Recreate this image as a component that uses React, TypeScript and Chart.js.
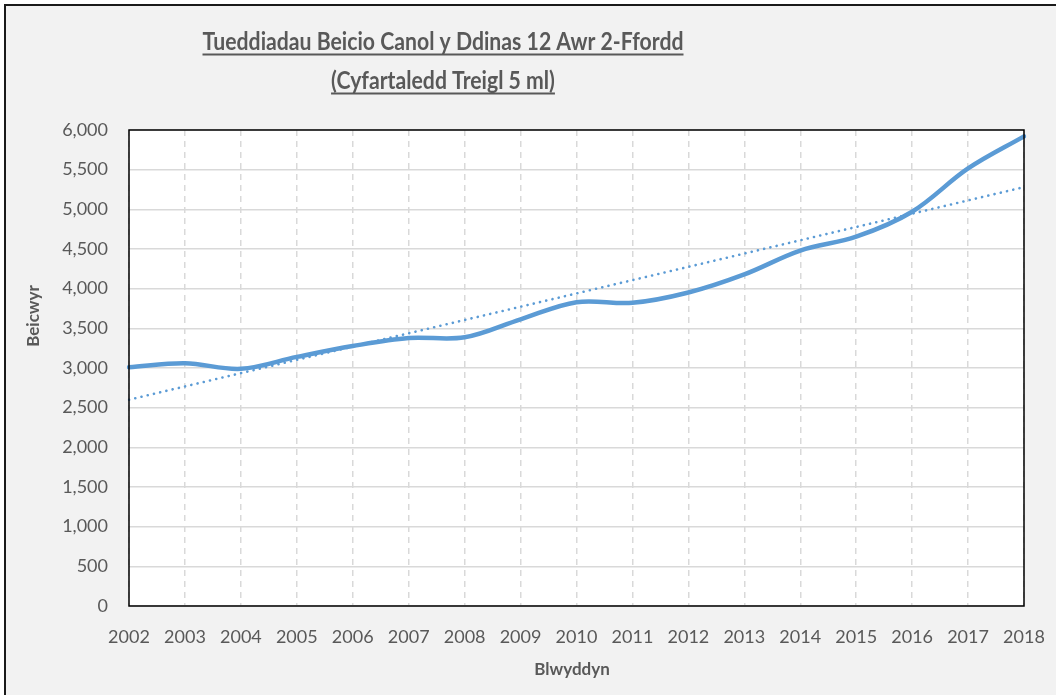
import { useEffect, useRef } from 'react';
import { Chart, registerables } from 'chart.js';

Chart.register(...registerables);

const years = ['2002', '2003', '2004', '2005', '2006', '2007', '2008', '2009', '2010', '2011', '2012', '2013', '2014', '2015', '2016', '2017', '2018'];
const cyclists = [3009, 3060, 2990, 3140, 3277, 3378, 3387, 3614, 3830, 3822, 3952, 4180, 4480, 4655, 4970, 5515, 5920];
const trendYears = ['2002', '2018'];
const trendValues = [2600, 5280];
const titleLines = ['Tueddiadau Beicio Canol y Ddinas 12 Awr 2-Ffordd', '(Cyfartaledd Treigl 5 ml)'];
const yTitle = 'Beicwyr';
const xTitle = 'Blwyddyn';

const FONT = 'Lato, "Open Sans", sans-serif';
const TEXT = '#595959';

function drawCompressed(ctx: any, text: string, cx: number, y: number, scaleX: number) {
  ctx.save();
  ctx.translate(cx, y);
  ctx.scale(scaleX, 1);
  ctx.fillText(text, 0, 0);
  ctx.restore();
}

const decorPlugin = {
  id: 'decor',
  beforeDraw(chart: any) {
    const { ctx, width, height, chartArea } = chart;
    ctx.save();
    ctx.fillStyle = '#ffffff';
    ctx.fillRect(0, 0, width, height);
    ctx.fillStyle = '#f2f2f2';
    ctx.fillRect(6, 6, width - 6, height - 6);
    ctx.fillStyle = '#1a1a1a';
    ctx.fillRect(4, 4, width - 4, 2);
    ctx.fillRect(4, 4, 2, height - 4);
    ctx.fillStyle = '#ffffff';
    ctx.fillRect(chartArea.left, chartArea.top, chartArea.right - chartArea.left, chartArea.bottom - chartArea.top);
    ctx.restore();
  },
  afterDraw(chart: any) {
    const { ctx, chartArea } = chart;
    ctx.save();
    // plot border
    ctx.strokeStyle = '#000000';
    ctx.lineWidth = 1.5;
    ctx.strokeRect(chartArea.left, chartArea.top, chartArea.right - chartArea.left, chartArea.bottom - chartArea.top);

    // title
    ctx.fillStyle = TEXT;
    ctx.strokeStyle = TEXT;
    ctx.font = `bold 24px ${FONT}`;
    ctx.textAlign = 'center';
    ctx.textBaseline = 'alphabetic';
    const cx = 443;
    const baselines = [50, 89];
    const natural = ctx.measureText(titleLines[0]).width;
    const sx = 481 / natural;
    titleLines.forEach((line, i) => {
      drawCompressed(ctx, line, cx, baselines[i], sx);
      const w = ctx.measureText(line).width * sx;
      ctx.lineWidth = 2;
      ctx.beginPath();
      ctx.moveTo(cx - w / 2, baselines[i] + 4.5);
      ctx.lineTo(cx + w / 2, baselines[i] + 4.5);
      ctx.stroke();
    });

    // axis titles
    ctx.font = `bold 17px ${FONT}`;
    ctx.textAlign = 'center';
    ctx.textBaseline = 'alphabetic';
    ctx.fillText(xTitle, 572, 675);
    ctx.save();
    ctx.translate(39, 316);
    ctx.rotate(-Math.PI / 2);
    ctx.fillText(yTitle, 0, 0);
    ctx.restore();
    ctx.restore();
  },
};

export default function App() {
  const ref = useRef<HTMLCanvasElement | null>(null);

  useEffect(() => {
    if (!ref.current) return;
    const chart = new Chart(ref.current, {
      type: 'line',
      data: {
        labels: years,
        datasets: [
          {
            label: 'Beicwyr',
            data: cyclists,
            borderColor: '#5b9bd5',
            borderWidth: 4.5,
            tension: 0.35,
            pointRadius: 0,
            borderCapStyle: 'round',
            borderJoinStyle: 'round',
            fill: false,
          },
          {
            label: 'Trend',
            data: trendYears.map((y, i) => ({ x: y, y: trendValues[i] })) as any,
            borderColor: '#5b9bd5',
            borderWidth: 2.6,
            borderDash: [0.1, 6.3],
            borderCapStyle: 'round',
            pointRadius: 0,
            tension: 0,
            fill: false,
          },
        ],
      },
      options: {
        animation: false,
        responsive: false,
        devicePixelRatio: 1,
        layout: { padding: { top: 130, right: 32, bottom: 0, left: 0 } },
        plugins: {
          legend: { display: false },
          title: { display: false },
          tooltip: { enabled: false },
        },
        scales: {
          x: {
            type: 'category',
            offset: false,
            grid: { color: '#d9d9d9', lineWidth: 1.5, drawTicks: false },
            border: { display: false, dash: [6, 5] },
            ticks: {
              color: TEXT,
              font: { family: FONT, size: 18 },
              padding: 20,
              maxRotation: 0,
              autoSkip: false,
            },
            afterFit(scale: any) {
              scale.height = 89;
              scale.paddingRight = 0;
              scale.paddingLeft = 0;
            },
          },
          y: {
            min: 0,
            max: 6000,
            grid: { color: '#d9d9d9', lineWidth: 1.5, drawTicks: false },
            border: { display: false },
            ticks: {
              stepSize: 500,
              color: TEXT,
              font: { family: FONT, size: 18 },
              padding: 21,
              callback: (v: any) => Number(v).toLocaleString('en-US'),
            },
            afterFit(scale: any) {
              scale.width = 129;
            },
          },
        },
      },
      plugins: [decorPlugin],
    });
    return () => chart.destroy();
  }, []);

  return (
    <div style={{ position: 'fixed', left: 0, top: 0, width: 1056, height: 695 }}>
      <canvas ref={ref} width={1056} height={695} style={{ display: 'block', width: 1056, height: 695 }} />
    </div>
  );
}
